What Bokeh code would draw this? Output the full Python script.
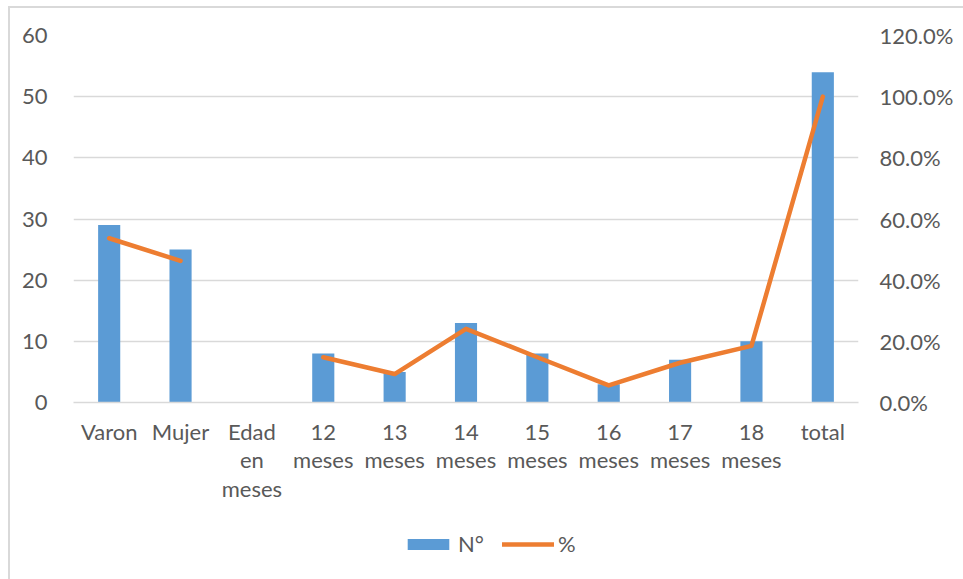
import math
from bokeh.plotting import figure
from bokeh.layouts import column
from bokeh.models import (Range1d, LinearAxis, FixedTicker, NumeralTickFormatter,
                          Legend, LegendItem, ColumnDataSource)
from bokeh.embed import file_html
from bokeh.resources import INLINE

categories = ["Varon", "Mujer", "Edad\nen\nmeses", "12\nmeses", "13\nmeses", "14\nmeses",
              "15\nmeses", "16\nmeses", "17\nmeses", "18\nmeses", "total"]
n_values = [29, 25, float("nan"), 8, 5, 13, 8, 3, 7, 10, 54]
pct_values = [0.537, 0.463, float("nan"), 0.148, 0.093, 0.241, 0.148, 0.056, 0.130, 0.185, 1.0]
left_ticks = [0, 10, 20, 30, 40, 50, 60]
right_ticks = [0.0, 0.2, 0.4, 0.6, 0.8, 1.0, 1.2]
series_names = ["N°", "%"]

FONT = "Lato"
TXT = "#595959"
GRID = "#d9d9d9"
BLUE = "#5b9bd5"
ORANGE = "#ed7d31"

xs = list(range(len(categories)))
src = ColumnDataSource(dict(x=xs, n=n_values, pct=pct_values))

W = 954
p = figure(width=W, height=520, output_backend="svg", toolbar_location=None,
           x_range=Range1d(-0.5, len(categories) - 0.5), y_range=Range1d(0, 60),
           min_border_left=63, min_border_right=106, min_border_top=27, min_border_bottom=126)
p.outline_line_color = None
p.background_fill_color = "white"
p.border_fill_color = "white"

p.extra_y_ranges = {"pct": Range1d(0, 1.2)}

bars = p.vbar(x="x", top="n", width=0.31, bottom=0, source=src, fill_color=BLUE, line_color=None)
line = p.line(x="x", y="pct", source=src, y_range_name="pct", line_color=ORANGE,
              line_width=4.5, line_cap="round", line_join="round")

xa = p.xaxis[0]
xa.ticker = FixedTicker(ticks=xs)
xa.major_label_overrides = {i: c for i, c in enumerate(categories)}
ya = p.yaxis[0]
ya.ticker = FixedTicker(ticks=left_ticks)
ra = LinearAxis(y_range_name="pct", ticker=FixedTicker(ticks=right_ticks),
                formatter=NumeralTickFormatter(format="0.0%"))
p.add_layout(ra, "right")

for ax in [xa, ya, ra]:
    ax.axis_line_color = None
    ax.major_tick_line_color = None
    ax.minor_tick_line_color = None
    ax.major_label_text_font = FONT
    ax.major_label_text_font_size = "22px"
    ax.major_label_text_color = TXT
xa.axis_line_color = GRID
xa.axis_line_width = 1.5
xa.major_label_standoff = 9
xa.major_label_text_line_height = 1.06
ya.major_label_standoff = 20
ra.major_label_standoff = 15

p.xgrid.grid_line_color = None
p.ygrid.grid_line_color = GRID
p.ygrid.grid_line_width = 1.5
p.ygrid.ticker = FixedTicker(ticks=left_ticks)

# legend strip below the chart
p2 = figure(width=W, height=52, output_backend="svg", toolbar_location=None,
            x_range=Range1d(0, 1), y_range=Range1d(0, 1), x_axis_type=None, y_axis_type=None,
            min_border=0)
p2.outline_line_color = None
p2.grid.grid_line_color = None
p2.border_fill_color = "white"
lb = p2.vbar(x=[-5], top=[-5], bottom=[-6], width=0.1, fill_color=BLUE, line_color=None)
ll = p2.line(x=[-5, -6], y=[-5, -5], line_color=ORANGE, line_width=4.5, line_cap="round")
legend = Legend(items=[LegendItem(label=series_names[0], renderers=[lb]),
                       LegendItem(label=series_names[1], renderers=[ll])],
                location=(329, 23), orientation="horizontal",
                glyph_width=52, glyph_height=14, label_text_font=FONT,
                label_text_font_size="22px", label_text_color=TXT,
                border_line_color=None, background_fill_alpha=0,
                padding=0, margin=0, spacing=18, label_standoff=4)
p2.add_layout(legend, "center")

layout = column(p, p2, spacing=0)
layout.margin = (6, 0, 0, 8)
layout.styles = {"border-left": "2px solid #d9d9d9", "border-top": "2px solid #d9d9d9"}

open("out.html", "w").write(file_html(layout, INLINE))
